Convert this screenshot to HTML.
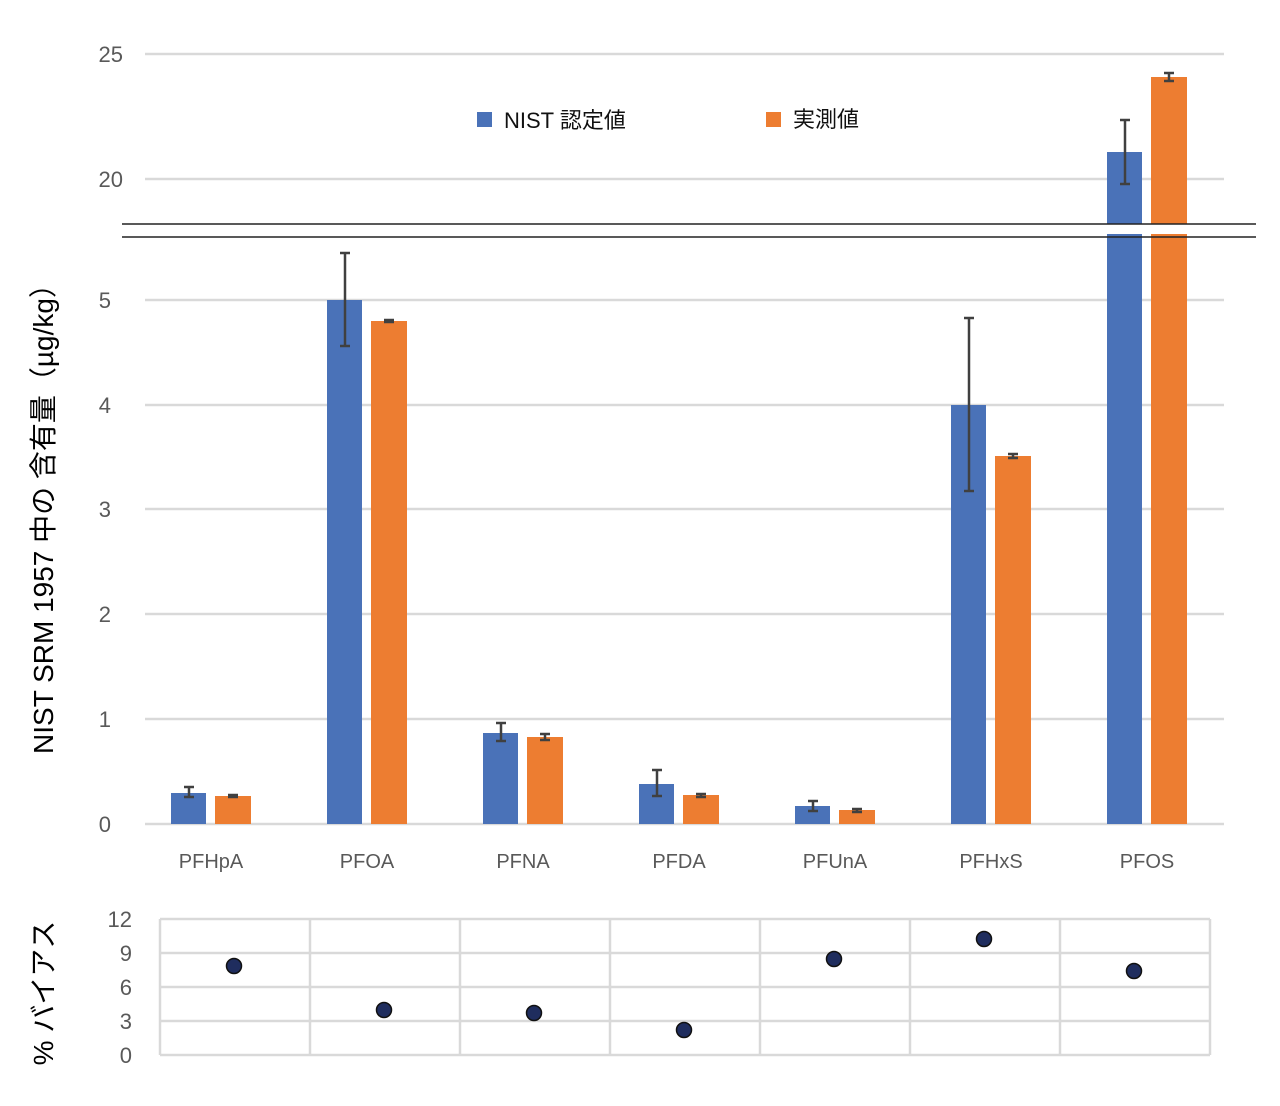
<!DOCTYPE html>
<html><head><meta charset="utf-8"><style>
html,body{margin:0;padding:0;background:#fff;}
svg{display:block;font-family:"Liberation Sans","Noto Sans CJK JP",sans-serif;}
.t{fill:#595959;font-size:22px;}
.x{fill:#595959;font-size:20px;text-anchor:middle;}
.g{stroke:#d9d9d9;stroke-width:2.5;}
.e{stroke:#404040;stroke-width:2.5;}
</style></head><body>
<svg width="1280" height="1106" viewBox="0 0 1280 1106">
<line class="g" x1="145" y1="54" x2="1224" y2="54"/>
<line class="g" x1="145" y1="179" x2="1224" y2="179"/>
<line class="g" x1="145" y1="300" x2="1224" y2="300"/>
<line class="g" x1="145" y1="405" x2="1224" y2="405"/>
<line class="g" x1="145" y1="509" x2="1224" y2="509"/>
<line class="g" x1="145" y1="614" x2="1224" y2="614"/>
<line class="g" x1="145" y1="719" x2="1224" y2="719"/>
<line class="g" x1="145" y1="824" x2="1224" y2="824"/>
<g class="t" text-anchor="end">
<text x="123" y="62">25</text>
<text x="123" y="187">20</text>
<text x="111" y="308">5</text>
<text x="111" y="413">4</text>
<text x="111" y="517">3</text>
<text x="111" y="622">2</text>
<text x="111" y="727">1</text>
<text x="111" y="832">0</text>
</g>
<g fill="#4a72b8">
<rect x="171" y="793" width="35" height="31"/>
<rect x="327" y="300" width="35" height="524"/>
<rect x="483" y="733" width="35" height="91"/>
<rect x="639" y="784" width="35" height="40"/>
<rect x="795" y="806" width="35" height="18"/>
<rect x="951" y="405" width="35" height="419"/>
<rect x="1107" y="234" width="35" height="590"/>
<rect x="1107" y="152" width="35" height="72"/>
</g>
<g fill="#ed7d31">
<rect x="215" y="796" width="36" height="28"/>
<rect x="371" y="321" width="36" height="503"/>
<rect x="527" y="737" width="36" height="87"/>
<rect x="683" y="795" width="36" height="29"/>
<rect x="839" y="810" width="36" height="14"/>
<rect x="995" y="456" width="36" height="368"/>
<rect x="1151" y="234" width="36" height="590"/>
<rect x="1151" y="77" width="36" height="147"/>
</g>
<g class="e" fill="none">
<path d="M189 787V797M184 787H194M184 797H194"/>
<path d="M233 795V797M228 795H238M228 797H238"/>
<path d="M345 253V346M340 253H350M340 346H350"/>
<path d="M389 320V322M384 320H394M384 322H394"/>
<path d="M501 723V741M496 723H506M496 741H506"/>
<path d="M545 734V740M540 734H550M540 740H550"/>
<path d="M657 770V796M652 770H662M652 796H662"/>
<path d="M701 794V797M696 794H706M696 797H706"/>
<path d="M813 801V811M808 801H818M808 811H818"/>
<path d="M857 809V812M852 809H862M852 812H862"/>
<path d="M969 318V491M964 318H974M964 491H974"/>
<path d="M1013 454V458M1008 454H1018M1008 458H1018"/>
<path d="M1125 120V184M1120 120H1130M1120 184H1130"/>
<path d="M1169 73V81M1164 73H1174M1164 81H1174"/>
</g>
<rect x="122" y="225" width="1134" height="9" fill="#fff"/>
<line x1="122" y1="224" x2="1256" y2="224" stroke="#222" stroke-width="1.5"/>
<line x1="122" y1="237" x2="1256" y2="237" stroke="#222" stroke-width="1.5"/>
<text class="x" x="211" y="868">PFHpA</text>
<text class="x" x="367" y="868">PFOA</text>
<text class="x" x="523" y="868">PFNA</text>
<text class="x" x="679" y="868">PFDA</text>
<text class="x" x="835" y="868">PFUnA</text>
<text class="x" x="991" y="868">PFHxS</text>
<text class="x" x="1147" y="868">PFOS</text>
<rect x="477" y="112" width="15" height="15" fill="#4a72b8"/>
<text x="504" y="128" font-size="22" fill="#111">NIST 認定値</text>
<rect x="766" y="112" width="15" height="15" fill="#ed7d31"/>
<text x="793" y="127" font-size="22" fill="#111">実測値</text>
<text transform="translate(53,512) rotate(-90)" font-size="28" text-anchor="middle" fill="#000">NIST SRM 1957 中の 含有量（µg/kg）</text>
<g class="g">
<line x1="160" y1="919" x2="1210" y2="919"/>
<line x1="160" y1="953" x2="1210" y2="953"/>
<line x1="160" y1="987" x2="1210" y2="987"/>
<line x1="160" y1="1021" x2="1210" y2="1021"/>
<line x1="160" y1="1055" x2="1210" y2="1055"/>
<line x1="160" y1="919" x2="160" y2="1055"/>
<line x1="310" y1="919" x2="310" y2="1055"/>
<line x1="460" y1="919" x2="460" y2="1055"/>
<line x1="610" y1="919" x2="610" y2="1055"/>
<line x1="760" y1="919" x2="760" y2="1055"/>
<line x1="910" y1="919" x2="910" y2="1055"/>
<line x1="1060" y1="919" x2="1060" y2="1055"/>
<line x1="1210" y1="919" x2="1210" y2="1055"/>
</g>
<g class="t" text-anchor="end">
<text x="132" y="927">12</text>
<text x="132" y="961">9</text>
<text x="132" y="995">6</text>
<text x="132" y="1029">3</text>
<text x="132" y="1063">0</text>
</g>
<g fill="#1f2d5e" stroke="#111" stroke-width="1.5">
<circle cx="234" cy="966" r="7.5"/>
<circle cx="384" cy="1010" r="7.5"/>
<circle cx="534" cy="1013" r="7.5"/>
<circle cx="684" cy="1030" r="7.5"/>
<circle cx="834" cy="959" r="7.5"/>
<circle cx="984" cy="939" r="7.5"/>
<circle cx="1134" cy="971" r="7.5"/>
</g>
<text transform="translate(53,993) rotate(-90)" font-size="28" text-anchor="middle" fill="#000">% バイアス</text>
</svg>
</body></html>
